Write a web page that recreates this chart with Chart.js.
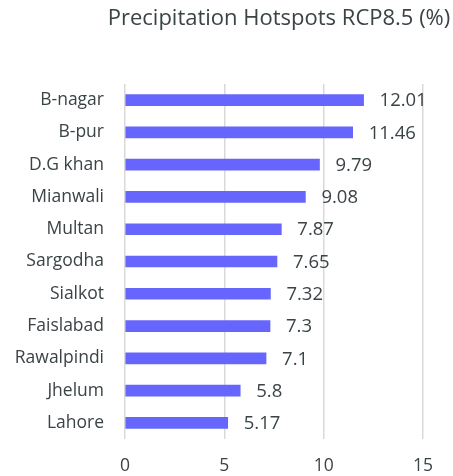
<!DOCTYPE html>
<html lang="en">
<head>
    <meta charset="UTF-8">
    <title>Precipitation Hotspots RCP8.5 (%)</title>
    <style>
        html, body {
            margin: 0;
            padding: 0;
            background: #fff;
        }
        #wrap {
            width: 453px;
            height: 476px;
        }
    </style>
</head>
<body>
    <div id="wrap"><canvas id="chart" width="453" height="476"></canvas></div>

    <script src="https://cdn.jsdelivr.net/npm/chart.js"></script>
    <script>
        const chartTitle = 'Precipitation Hotspots RCP8.5 (%)';
        const cities = ['B-nagar', 'B-pur', 'D.G khan', 'Mianwali', 'Multan', 'Sargodha',
                        'Sialkot', 'Faislabad', 'Rawalpindi', 'Jhelum', 'Lahore'];
        const hotspotValues = [12.01, 11.46, 9.79, 9.08, 7.87, 7.65, 7.32, 7.3, 7.1, 5.8, 5.17];
        const xTicks = [0, 5, 10, 15];

        const textColor = '#3a4346';
        const fontFamily = "'Open Sans', 'Liberation Sans', sans-serif";

        // title drawn by hand so it sits where the original puts it
        const titlePlugin = {
            id: 'titleText',
            afterDraw(chart) {
                const ctx = chart.ctx;
                ctx.save();
                ctx.font = '22px ' + fontFamily;
                ctx.fillStyle = textColor;
                ctx.textAlign = 'center';
                ctx.textBaseline = 'middle';
                ctx.fillText(chartTitle, 279, 19);
                ctx.restore();
            }
        };

        // value labels to the right of each bar
        const valueLabels = {
            id: 'valueLabels',
            afterDatasetsDraw(chart) {
                const ctx = chart.ctx;
                const meta = chart.getDatasetMeta(0);
                ctx.save();
                ctx.font = '18.5px ' + fontFamily;
                ctx.fillStyle = textColor;
                ctx.textAlign = 'left';
                ctx.textBaseline = 'middle';
                meta.data.forEach((bar, i) => {
                    ctx.fillText(String(hotspotValues[i]), bar.x + 16, bar.y + 1);
                });
                ctx.restore();
            }
        };

        new Chart(document.getElementById('chart'), {
            type: 'bar',
            data: {
                labels: cities,
                datasets: [{
                    data: hotspotValues,
                    backgroundColor: '#6666ff',
                    barThickness: 11
                }]
            },
            options: {
                indexAxis: 'y',
                responsive: false,
                animation: false,
                layout: {
                    padding: { top: 84, right: 30, bottom: 0, left: 0 }
                },
                plugins: {
                    legend: { display: false },
                    title: { display: false },
                    tooltip: { enabled: false }
                },
                scales: {
                    x: {
                        min: 0,
                        max: 15,
                        afterBuildTicks(scale) {
                            scale.ticks = xTicks.map(v => ({ value: v }));
                        },
                        afterFit(scale) {
                            scale.height = 37;
                        },
                        grid: {
                            color: '#d9d9d9',
                            lineWidth: 1.5,
                            drawTicks: false
                        },
                        border: { display: false },
                        ticks: {
                            color: textColor,
                            font: { family: fontFamily, size: 17.5 },
                            padding: 17,
                            maxRotation: 0
                        }
                    },
                    y: {
                        afterFit(scale) {
                            scale.width = 125;
                        },
                        grid: { display: false, drawTicks: false },
                        border: { display: false },
                        ticks: {
                            color: textColor,
                            font: { family: fontFamily, size: 17.5 },
                            padding: 21
                        }
                    }
                }
            },
            plugins: [titlePlugin, valueLabels]
        });
    </script>
</body>
</html>
